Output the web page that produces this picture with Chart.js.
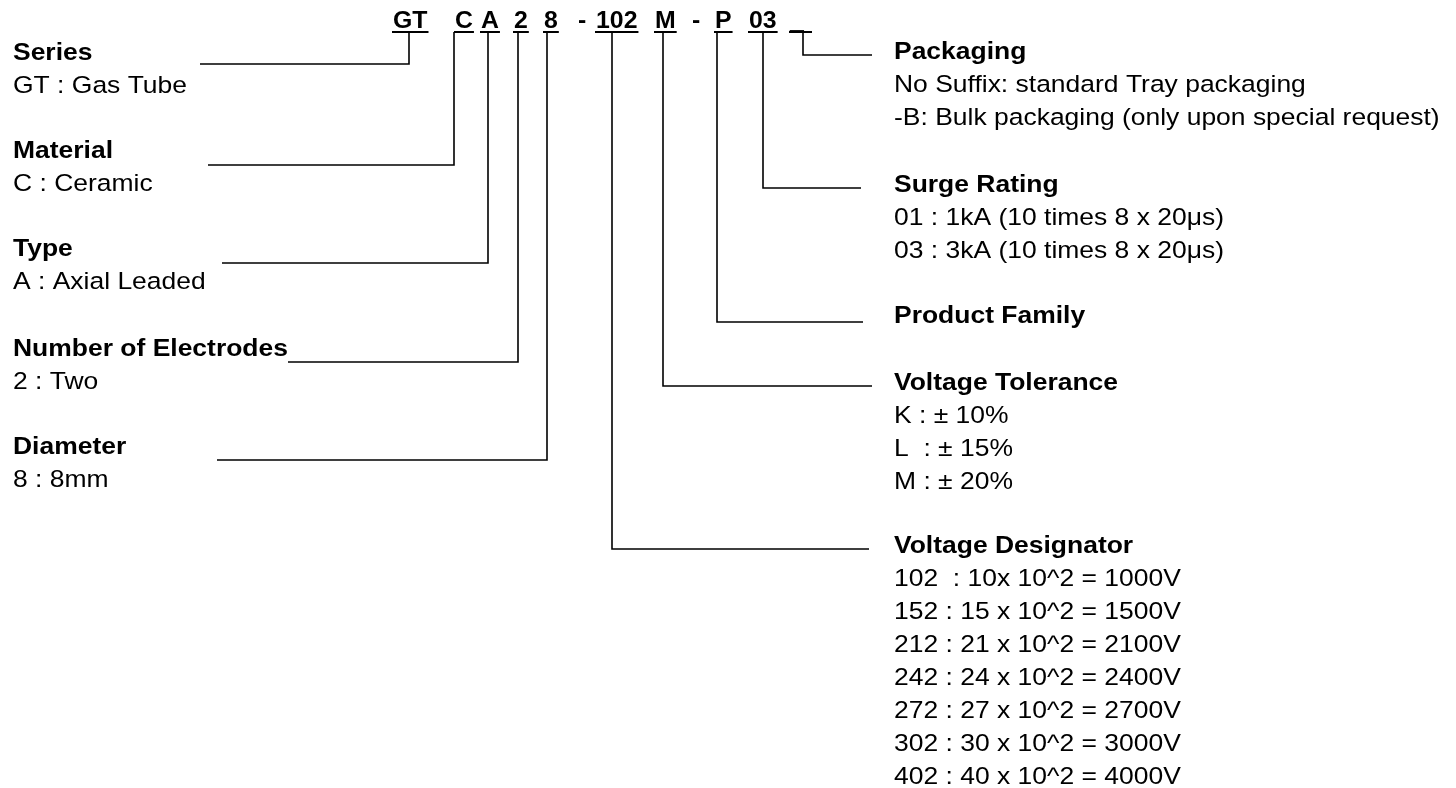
<!DOCTYPE html>
<html>
<head>
<meta charset="utf-8">
<script src="https://cdn.jsdelivr.net/npm/chart.js@4.4.1/dist/chart.umd.min.js"></script>
<style>
  html, body { margin:0; padding:0; background:#fff; }
  #wrap { width:1456px; height:788px; position:relative; }
</style>
</head>
<body>
<div id="wrap"><canvas id="c"></canvas></div>
<script>
// part number, split in its coded segments
const codeParts = ['GT', 'C', 'A', '2', '8', '-', '102', 'M', '-', 'P', '03', '_'];

const leftTitles = ['Series', 'Material', 'Type', 'Number of Electrodes', 'Diameter'];
const leftValues = [
  ['GT : Gas Tube'],
  ['C : Ceramic'],
  ['A : Axial Leaded'],
  ['2 : Two'],
  ['8 : 8mm']
];

const rightTitles = ['Packaging', 'Surge Rating', 'Product Family', 'Voltage Tolerance', 'Voltage Designator'];
const rightValues = [
  ['No Suffix: standard Tray packaging', '-B: Bulk packaging (only upon special request)'],
  ['01 : 1kA (10 times 8 x 20\u03bcs)', '03 : 3kA (10 times 8 x 20\u03bcs)'],
  [],
  ['K : \u00b1 10%', 'L  : \u00b1 15%', 'M : \u00b1 20%'],
  ['102  : 10x 10^2 = 1000V', '152 : 15 x 10^2 = 1500V', '212 : 21 x 10^2 = 2100V',
   '242 : 24 x 10^2 = 2400V', '272 : 27 x 10^2 = 2700V', '302 : 30 x 10^2 = 3000V',
   '402 : 40 x 10^2 = 4000V']
];

// leader lines: where they leave the code, the row they turn on, where they end
const tapX    = [409, 454, 488, 518, 547, 803, 763, 717, 663, 612];
const tapRowY = [64, 165, 263, 362, 460, 55, 188, 322, 386, 549];
const tapEndX = [200, 208, 222, 288, 217, 872, 861, 863, 872, 869];

// layout (reference pixel units)
const codeX = [393, 455, 481, 514, 544, 578, 596, 655, 692, 715, 749, 790];
const codeBase = 28, underY = 32;
const leftX = 13, rightX = 894;
const leftTitleY = [60, 158, 256, 356, 454];
const rightTitleY = [59, 192, 323, 390, 553];
const lineStep = 33;
const FONT = '"Liberation Sans", Arial, Helvetica, sans-serif';
const SIZE = 24.5, CODE_SIZE = 23, STRETCH = 1.08;

const datasets = tapX.map((x, i) => ({
  data: [{ x, y: underY }, { x, y: tapRowY[i] }, { x: tapEndX[i], y: tapRowY[i] }],
  showLine: true,
  borderColor: '#000',
  borderWidth: 1.6,
  pointRadius: 0,
  tension: 0,
  clip: false
}));

const labelsPlugin = {
  id: 'labels',
  afterDraw(chart) {
    const { ctx, scales: { x: sx, y: sy } } = chart;
    const put = (t, x, y, bold, size = SIZE) => {
      ctx.save();
      ctx.font = `${bold ? 'bold ' : ''}${size}px ${FONT}`;
      ctx.translate(sx.getPixelForValue(x), sy.getPixelForValue(y));
      ctx.scale(STRETCH, 1);
      ctx.fillText(t, 0, 0);
      const w = ctx.measureText(t).width * STRETCH;
      ctx.restore();
      return w;
    };
    ctx.save();
    ctx.fillStyle = '#000';
    ctx.textBaseline = 'alphabetic';
    ctx.textAlign = 'left';

    codeParts.forEach((p, i) => {
      let w = put(p, codeX[i], codeBase, true, CODE_SIZE);
      if (p === '-') return;
      if (p === '_') w = 21;
      const x0 = sx.getPixelForValue(codeX[i] - 1);
      ctx.fillRect(x0, sy.getPixelForValue(underY) - 1, w + 2, 2);
    });

    leftTitles.forEach((t, i) => {
      put(t, leftX, leftTitleY[i], true);
      leftValues[i].forEach((v, j) => put(v, leftX, leftTitleY[i] + lineStep * (j + 1), false));
    });
    rightTitles.forEach((t, i) => {
      put(t, rightX, rightTitleY[i], true);
      rightValues[i].forEach((v, j) => put(v, rightX, rightTitleY[i] + lineStep * (j + 1), false));
    });
    ctx.restore();
  }
};

new Chart(document.getElementById('c'), {
  type: 'scatter',
  data: { datasets },
  options: {
    responsive: true,
    maintainAspectRatio: false,
    animation: false,
    layout: { padding: 0 },
    plugins: { legend: { display: false }, tooltip: { enabled: false } },
    scales: {
      x: { type: 'linear', min: 0, max: 1456, display: false },
      y: { type: 'linear', min: 0, max: 788, reverse: true, display: false }
    }
  },
  plugins: [labelsPlugin]
});
</script>
</body>
</html>
